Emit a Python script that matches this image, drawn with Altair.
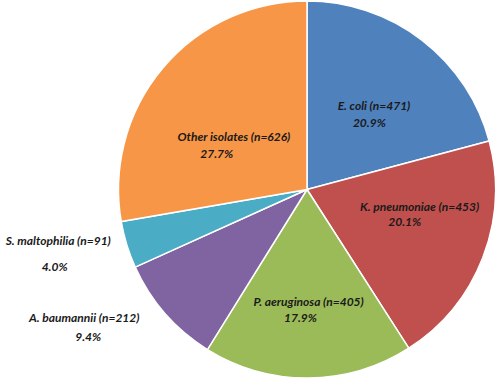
import math
import altair as alt
import pandas as pd

# Isolates by organism
organisms = ["E. coli", "K. pneumoniae", "P. aeruginosa", "A. baumannii",
             "S. maltophilia", "Other isolates"]
counts = [471, 453, 405, 212, 91, 626]
colors = ["#4F81BD", "#C0504D", "#9BBB59", "#8064A2", "#4BACC6", "#F79646"]

# Label layout: radius (px) and angular nudge (deg) from the slice middle,
# for the name line and the percentage line
name_r = [107, 114, 113, 257, 254, 90]
name_nudge = [1.2, -12.4, -0.4, 11.3, 5.4, -4.4]
pct_r = [91, 103, 129, 264, 264, 97]
pct_nudge = [5.7, -2.8, 3.3, 7.2, 0.0, -18.6]

CX, CY, R = 307, 189.5, 188.5

total = sum(counts)
rows = []
cum = 0
for i, (name, n) in enumerate(zip(organisms, counts)):
    mid = (cum + n / 2) / total * 360
    cum += n
    rows.append({
        "idx": i,
        "organism": name,
        "count": n,
        "name_label": f"{name} (n={n})",
        "pct_label": f"{n / total * 100:.1f}%",
        "a1": math.radians(mid + name_nudge[i]),
        "r1": name_r[i],
        "a2": math.radians(mid + pct_nudge[i]),
        "r2": pct_r[i],
    })
df = pd.DataFrame(rows)

base = alt.Chart(df)

pie = base.mark_arc(radius=R, stroke="white", strokeWidth=1.5).encode(
    x=alt.value(CX),
    y=alt.value(CY),
    theta=alt.Theta("count:Q", stack=True),
    order=alt.Order("idx:Q"),
    color=alt.Color("organism:N", scale=alt.Scale(domain=organisms, range=colors),
                    legend=None),
)

text_style = dict(font="Lato", fontSize=12, fontWeight="bold", fontStyle="italic",
                  color="#1a1a1a", align="center", baseline="middle")

names = base.mark_text(**text_style).encode(
    x=alt.value(CX),
    y=alt.value(CY),
    theta=alt.Theta("a1:Q", scale=None, stack=False),
    radius=alt.Radius("r1:Q", scale=None),
    text="name_label:N",
)

pcts = base.mark_text(**text_style).encode(
    x=alt.value(CX),
    y=alt.value(CY),
    theta=alt.Theta("a2:Q", scale=None, stack=False),
    radius=alt.Radius("r2:Q", scale=None),
    text="pct_label:N",
)

chart = alt.layer(pie, names, pcts).properties(
    width=497, height=380, padding=0, autosize="none", background="white"
).configure_view(stroke=None)

chart.save("out.html", embed_options={"renderer": "svg", "actions": False})
